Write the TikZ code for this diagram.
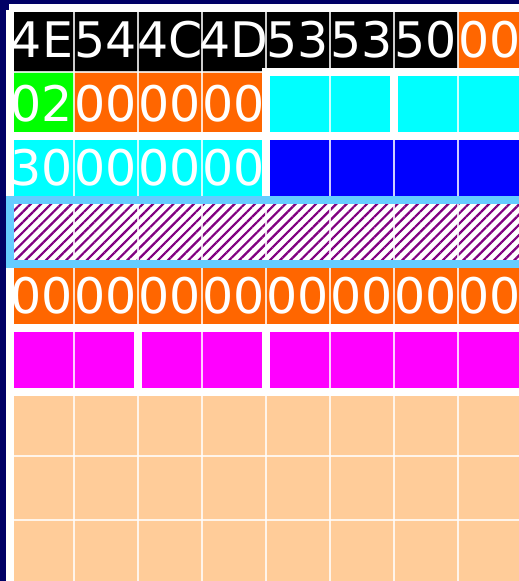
\documentclass[tikz,border=0pt]{standalone}
\usepackage{fontspec}
\setmainfont{DejaVu Sans}
\usetikzlibrary{patterns.meta}
\definecolor{navy}{RGB}{0,0,102}
\definecolor{hexorange}{RGB}{255,102,0}
\definecolor{hexgreen}{RGB}{0,255,0}
\definecolor{hexcyan}{RGB}{0,255,255}
\definecolor{hexblue}{RGB}{0,0,255}
\definecolor{hexmagenta}{RGB}{255,0,255}
\definecolor{hexpeach}{RGB}{255,204,153}
\definecolor{hexframe}{RGB}{102,204,255}
\definecolor{hexpurple}{RGB}{128,0,128}
\tikzset{
  bytetxt/.style={text=white,inner sep=0pt,font=\fontsize{49}{49}\selectfont},
  cellline/.style={white,opacity=0.8,line width=1.2pt},
  gapline/.style={white,line width=8pt},
}

\begin{document}
\begin{tikzpicture}[x=1pt,y=-1pt]
    \useasboundingbox (0,0) rectangle (519,581);
    \fill[navy] (0,0) rectangle (519,581);
    % byte fields, one row = 8 bytes
    \fill[black] (10,8) rectangle (458,72);
    \fill[hexorange] (458,8) rectangle (522,72);
    \fill[hexgreen] (10,72) rectangle (74,136);
    \fill[hexorange] (74,72) rectangle (266,136);
    \fill[hexcyan] (266,72) rectangle (522,136);
    \fill[hexcyan] (10,136) rectangle (266,200);
    \fill[hexblue] (266,136) rectangle (522,200);
    \fill[white] (10,200) rectangle (522,264);
    \fill[pattern={Lines[angle=45,distance=7.2pt,line width=2.2pt]},pattern color=hexpurple] (10,200) rectangle (522,264);
    \fill[hexorange] (10,264) rectangle (522,328);
    \fill[hexmagenta] (10,328) rectangle (522,392);
    \fill[hexpeach] (10,392) rectangle (522,584);
    % cell borders
    \foreach \x in {74,138,...,458} \draw[cellline] (\x,8) -- (\x,584);
    \foreach \y in {72,136,...,520} \draw[cellline] (10,\y) -- (522,\y);
    % gaps round the two buffers
    \draw[gapline] (266,72) rectangle (530,136);
    \draw[gapline] (10,136) rectangle (266,200);
    \draw[gapline] (394,72) -- (394,136);
    \draw[gapline] (10,328) rectangle (530,392);
    \draw[gapline] (138,328) -- (138,392);
    \draw[gapline] (266,328) -- (266,392);
    % hex bytes
    \foreach \t [count=\c from 0] in {4E,54,4C,4D,53,53,50,00}
      \node[bytetxt] (sig\c) at ({42+64*\c},40) {\t};
    \foreach \t [count=\c from 0] in {02,00,00,00}
      \node[bytetxt] (type\c) at ({42+64*\c},104) {\t};
    \foreach \t [count=\c from 0] in {30,00,00,00}
      \node[bytetxt] (off\c) at ({42+64*\c},168) {\t};
    \foreach \c in {0,...,7}
      \node[bytetxt] (res\c) at ({42+64*\c},296) {00};
    % margin
    \fill[white] (6,10) rectangle (14,581);
    \fill[white] (9,4) rectangle (519,12);
    % frame round the challenge
    \draw[hexframe,line width=8pt] (10,200) rectangle (530,264);
\end{tikzpicture}
\end{document}
